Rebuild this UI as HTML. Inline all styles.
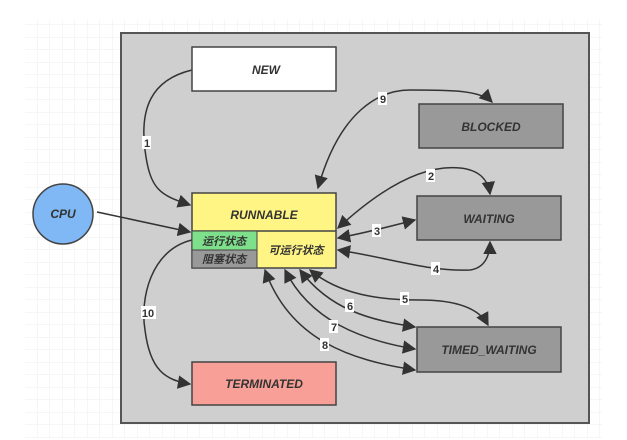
<!DOCTYPE html>
<html><head><meta charset="utf-8"><style>
html,body{margin:0;padding:0;background:#fff;}
svg{display:block}
text{font-family:"Liberation Sans","Noto Sans CJK SC",sans-serif;font-style:italic;font-weight:bold;fill:#333}
.n{font-style:normal;font-weight:bold;font-size:11px;fill:#333}
</style></head><body>
<svg width="627" height="440" viewBox="0 0 627 440" xmlns="http://www.w3.org/2000/svg">
<defs>
<pattern id="g" width="12.5" height="12.5" patternUnits="userSpaceOnUse"><path d="M12.5 0V12.5H0" fill="none" stroke="#eee" stroke-width="1"/></pattern>
<marker id="a" viewBox="0 0 10 10" refX="9" refY="5" markerWidth="9" markerHeight="9" orient="auto-start-reverse"><path d="M0 0L10 5L0 10z" fill="#333"/></marker>
</defs>
<rect x="25" y="20" width="577" height="418" fill="url(#g)"/>
<rect x="121" y="33" width="468" height="390" fill="#cfcfcf" stroke="#555" stroke-width="2"/>
<g fill="none" stroke="#333" stroke-width="1.5">
<path d="M192 70 C150 80,140 110,145 150 C150 190,160 195,190 205" marker-end="url(#a)"/>
<path d="M97 212 L190 232" marker-end="url(#a)"/>
<path d="M318 188 C340 110,380 90,410 90 C450 90,480 90,492 102" marker-start="url(#a)" marker-end="url(#a)"/>
<path d="M338 228 C390 180,430 165,460 168 C480 170,488 180,490 194" marker-start="url(#a)" marker-end="url(#a)"/>
<path d="M338 238 C370 232,395 225,415 220" marker-start="url(#a)" marker-end="url(#a)"/>
<path d="M338 250 C390 258,430 272,470 270 C485 268,490 255,490 242" marker-start="url(#a)" marker-end="url(#a)"/>
<path d="M310 270 C340 295,380 300,420 300 C460 300,480 310,488 325" marker-start="url(#a)" marker-end="url(#a)"/>
<path d="M300 270 C330 310,370 320,415 327" marker-start="url(#a)" marker-end="url(#a)"/>
<path d="M285 270 C310 320,360 340,415 349" marker-start="url(#a)" marker-end="url(#a)"/>
<path d="M265 270 C290 340,350 360,415 370" marker-start="url(#a)" marker-end="url(#a)"/>
<path d="M192 240 C150 250,140 300,145 330 C150 370,165 380,190 384" marker-end="url(#a)"/>
</g>
<g class="n" text-anchor="middle">
<rect x="142" y="136" width="9" height="13" fill="#fff"/><text class="n" x="147" y="147">1</text>
<rect x="378" y="92" width="9" height="13" fill="#fff"/><text class="n" x="383" y="103">9</text>
<rect x="426" y="169" width="9" height="13" fill="#fff"/><text class="n" x="431" y="180">2</text>
<rect x="372" y="224" width="9" height="13" fill="#fff"/><text class="n" x="377" y="235">3</text>
<rect x="431" y="262" width="9" height="13" fill="#fff"/><text class="n" x="436" y="273">4</text>
<rect x="400" y="292" width="9" height="13" fill="#fff"/><text class="n" x="405" y="303">5</text>
<rect x="345" y="299" width="9" height="13" fill="#fff"/><text class="n" x="350" y="310">6</text>
<rect x="329" y="320" width="9" height="13" fill="#fff"/><text class="n" x="334" y="331">7</text>
<rect x="320" y="338" width="9" height="13" fill="#fff"/><text class="n" x="325" y="349">8</text>
<rect x="141" y="306" width="15" height="13" fill="#fff"/><text class="n" x="148" y="317">10</text>
</g>
<rect x="192" y="47" width="144" height="44" fill="#fff" stroke="#444" stroke-width="1.5"/>
<text x="266" y="74" font-size="12" text-anchor="middle">NEW</text>
<rect x="419" y="104" width="144" height="44" fill="#999" stroke="#444" stroke-width="1.5"/>
<text x="491" y="131" font-size="12" text-anchor="middle">BLOCKED</text>
<rect x="417" y="196" width="144" height="44" fill="#999" stroke="#444" stroke-width="1.5"/>
<text x="489" y="223" font-size="12" text-anchor="middle">WAITING</text>
<rect x="417" y="327" width="144" height="45" fill="#999" stroke="#444" stroke-width="1.5"/>
<text x="489" y="354" font-size="12" text-anchor="middle">TIMED_WAITING</text>
<rect x="192" y="362" width="144" height="43" fill="#f8a097" stroke="#444" stroke-width="1.5"/>
<text x="264" y="388" font-size="12" text-anchor="middle">TERMINATED</text>
<rect x="192" y="193" width="144" height="75" fill="#fff585" stroke="#444" stroke-width="1.5"/>
<line x1="192" y1="231" x2="336" y2="231" stroke="#444" stroke-width="1.5"/>
<rect x="192" y="231" width="65" height="19" fill="#7ee08a" stroke="#444" stroke-width="1"/>
<rect x="192" y="250" width="65" height="18" fill="#999" stroke="#444" stroke-width="1"/>
<text x="264" y="219" font-size="12" text-anchor="middle">RUNNABLE</text>
<text x="224" y="245" font-size="11" text-anchor="middle">运行状态</text>
<text x="224" y="263" font-size="11" text-anchor="middle" fill="#444">阻塞状态</text>
<text x="296" y="254" font-size="11" text-anchor="middle">可运行状态</text>
<circle cx="63" cy="214" r="30" fill="#7fb8f5" stroke="#444" stroke-width="1.5"/>
<text x="63" y="218" font-size="12" text-anchor="middle">CPU</text>
</svg>
</body></html>
